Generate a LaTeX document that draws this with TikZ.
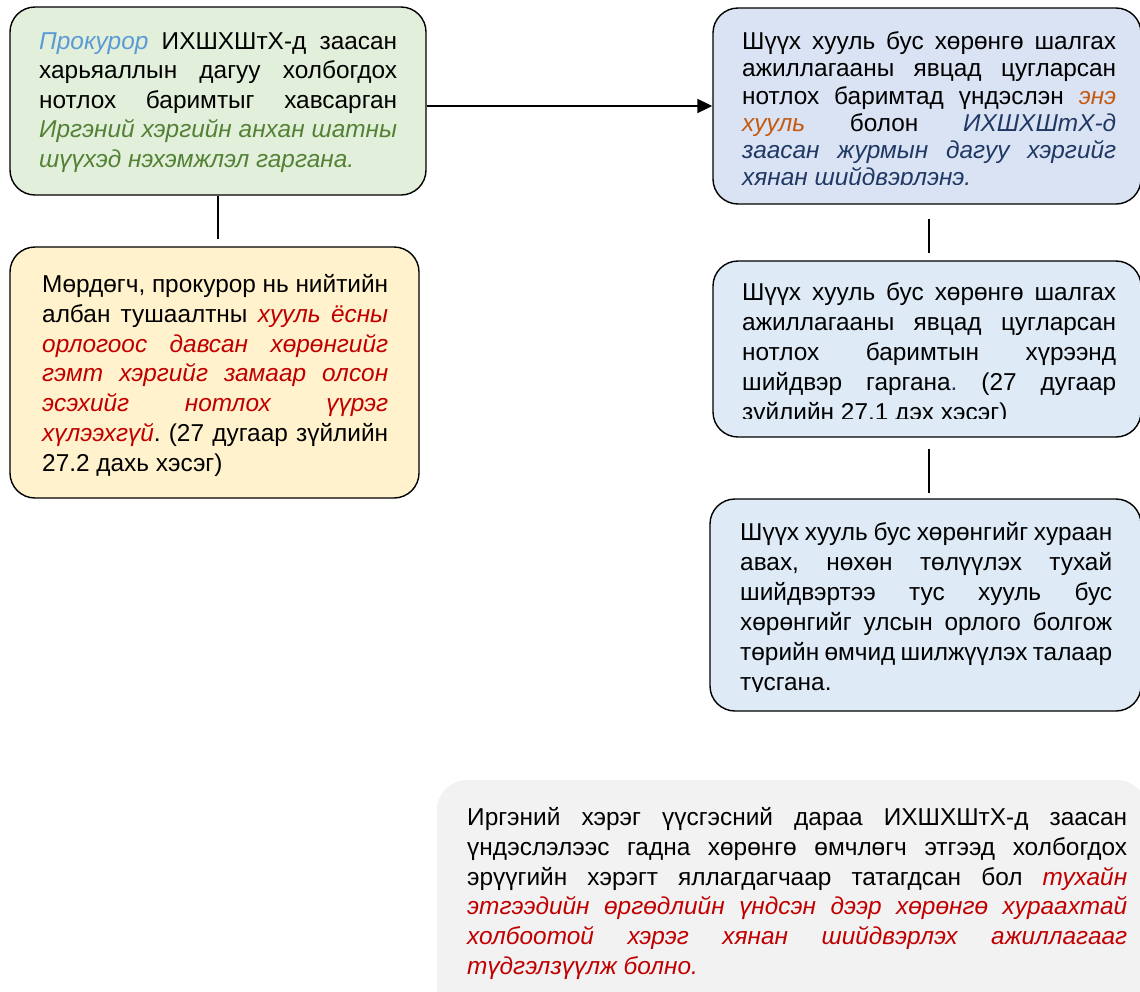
\documentclass[tikz,border=0pt]{standalone}
\usepackage{fontspec}
\setmainfont{Liberation Sans}
\usetikzlibrary{arrows.meta}
\definecolor{gfill}{HTML}{E2EFDA}
\definecolor{yfill}{HTML}{FFF2CC}
\definecolor{btfill}{HTML}{DAE3F3}
\definecolor{bmfill}{HTML}{DEEBF7}
\definecolor{grfill}{HTML}{F2F2F2}
\definecolor{proc}{HTML}{5B9BD5}
\definecolor{grn}{HTML}{538135}
\definecolor{rd}{HTML}{C00000}
\definecolor{orng}{HTML}{C55A11}
\definecolor{navy}{HTML}{1F3864}
\tikzset{
  bx/.style={draw=black, line width=1.4pt, rounded corners=25pt, inner sep=0pt},
  txt/.style={anchor=north west, inner sep=0pt, align=justify},
  ln/.style={draw=black, line width=2pt},
  arr/.style={ln, -{Triangle[length=15pt,width=14pt]}},
}
\newcommand{\fs}[1]{\fontsize{24.4}{#1}\selectfont\frenchspacing}
\newcommand{\st}{\rule{0pt}{17.5pt}}
\begin{document}
\begin{tikzpicture}[x=1pt,y=-1pt]
\clip (0,0) rectangle (1140,991);
\fill[white] (0,0) rectangle (1140,991);
% boxes
\node[bx, fill=gfill, minimum width=416pt, minimum height=188pt] (g) at (218,101) {};
\node[bx, fill=yfill, minimum width=409pt, minimum height=251pt] (y) at (214.5,372.5) {};
\node[bx, fill=btfill, minimum width=428pt, minimum height=196pt] (b1) at (927,106) {};
\node[bx, fill=bmfill, minimum width=428pt, minimum height=176pt] (b2) at (927,349) {};
\node[bx, fill=bmfill, minimum width=431pt, minimum height=212pt] (b3) at (925.5,605) {};
\node[draw=none, fill=grfill, rounded corners=30pt, inner sep=0pt, minimum width=710pt, minimum height=240pt] (gr) at (792,900) {};
% texts
\node[txt, text width=358pt, font=\fs{29.5}] (tg) at (39,31.5) {\st{\color{proc}\itshape Прокурор} ИХШХШтХ-д заасан\linebreak харьяаллын дагуу холбогдох\linebreak нотлох баримтыг хавсарган\linebreak {\color{grn}\itshape Иргэний хэргийн анхан шатны\linebreak шүүхэд нэхэмжлэл гаргана.}};
\node[txt, text width=346pt, font=\fs{29.7}] (ty) at (42,274.5) {\st Мөрдөгч, прокурор нь нийтийн\linebreak албан тушаалтны {\color{rd}\itshape хууль ёсны\linebreak орлогоос давсан хөрөнгийг\linebreak гэмт хэргийг замаар олсон\linebreak эсэхийг нотлох үүрэг\linebreak хүлээхгүй}. (27 дугаар зүйлийн\linebreak 27.2 дахь хэсэг)};
\begin{scope}
\clip (713,7) rectangle (1141,184);
\node[txt, text width=374pt, font=\fs{27.25}] (tb1) at (742,31.5) {\st Шүүх хууль бус хөрөнгө шалгах\linebreak ажиллагааны явцад цугларсан\linebreak нотлох баримтад үндэслэн {\color{orng}\itshape энэ\linebreak хууль} болон {\color{navy}\itshape ИХШХШтХ-д\linebreak заасан журмын дагуу хэргийг\linebreak хянан шийдвэрлэнэ.}};
\end{scope}
\begin{scope}
\clip (713,261) rectangle (1141,418);
\node[txt, text width=374pt, font=\fs{30}] (tb2) at (742,282.5) {\st Шүүх хууль бус хөрөнгө шалгах\linebreak ажиллагааны явцад цугларсан\linebreak нотлох баримтын хүрээнд\linebreak шийдвэр гаргана{\color{navy}.} (27 дугаар\linebreak зүйлийн 27.1 дэх хэсэг)};
\end{scope}
\begin{scope}
\clip (710,499) rectangle (1141,691);
\node[txt, text width=372pt, font=\fs{30}] (tb3) at (740,522.5) {\st Шүүх хууль бус хөрөнгийг хураан\linebreak авах, нөхөн төлүүлэх тухай\linebreak шийдвэртээ тус хууль бус\linebreak хөрөнгийг улсын орлого болгож\linebreak төрийн өмчид шилжүүлэх талаар\linebreak тусгана.};
\end{scope}
\node[txt, text width=660pt, font=\fs{29.7}] (tgr) at (467,807.5) {\st Иргэний хэрэг үүсгэсний дараа ИХШХШтХ-д заасан\linebreak үндэслэлээс гадна хөрөнгө өмчлөгч этгээд холбогдох\linebreak эрүүгийн хэрэгт яллагдагчаар татагдсан бол {\color{rd}\itshape тухайн\linebreak этгээдийн өргөдлийн үндсэн дээр хөрөнгө хураахтай\linebreak холбоотой хэрэг хянан шийдвэрлэх ажиллагааг\linebreak түдгэлзүүлж болно.}};
% connectors
\draw[arr] (g.east |- b1.west) -- (b1.west);
\draw[ln, shorten >=7pt] (g.south) -- (g.south |- y.north);
\draw[ln, shorten <=14pt, shorten >=7pt] ([xshift=2pt]b1.south) -- ([xshift=2pt]b2.north);
\draw[ln, shorten <=11pt, shorten >=5pt] ([xshift=2pt]b2.south) -- ([xshift=3.5pt]b3.north);
\end{tikzpicture}
\end{document}
